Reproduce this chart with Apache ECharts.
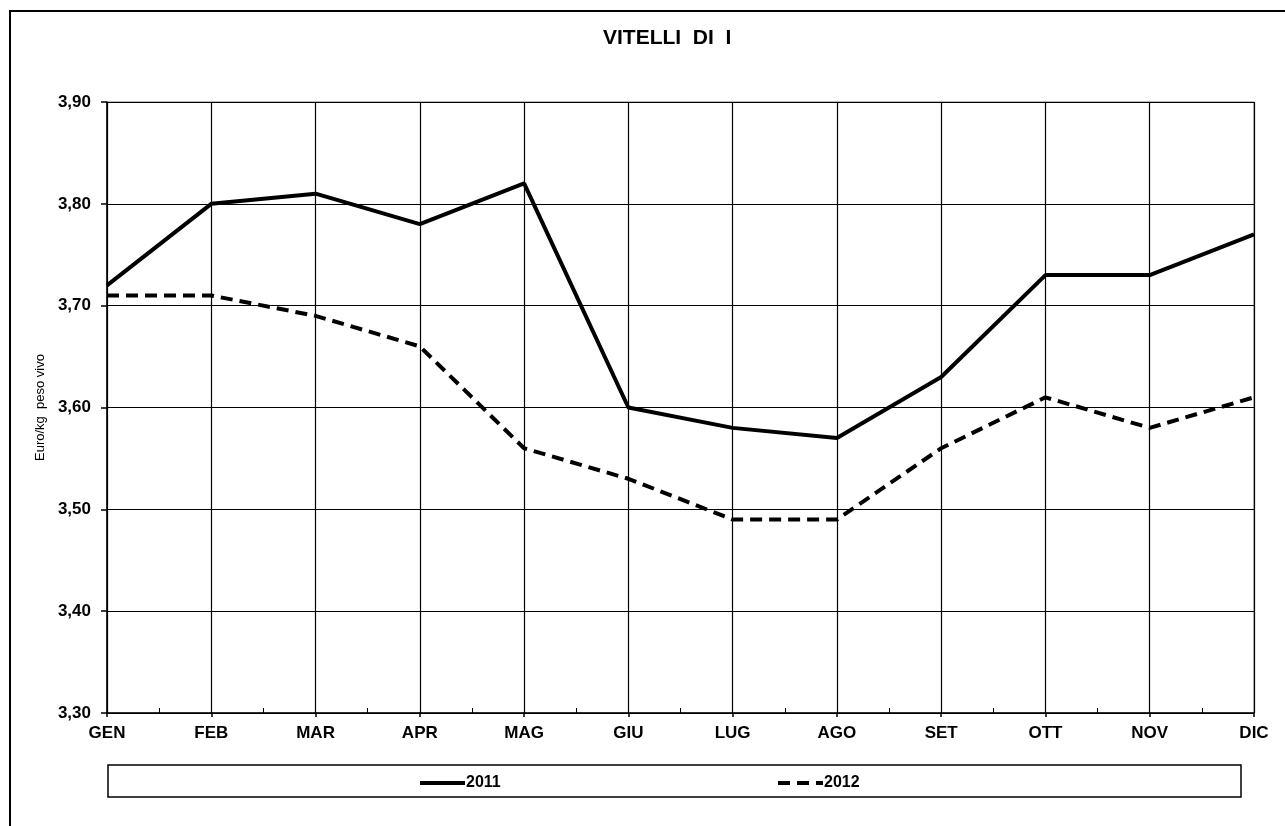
<!DOCTYPE html>
<html>
<head>
<meta charset="utf-8">
<style>
  html, body { margin: 0; padding: 0; background: #fff; }
  #chart { width: 1285px; height: 826px; }
</style>
<script src="https://cdn.jsdelivr.net/npm/echarts@6/dist/echarts.min.js"></script>
</head>
<body>
<div id="chart"></div>
<script>
// data
var months = ['GEN', 'FEB', 'MAR', 'APR', 'MAG', 'GIU', 'LUG', 'AGO', 'SET', 'OTT', 'NOV', 'DIC']
var price2011 = [3.72, 3.80, 3.81, 3.78, 3.82, 3.60, 3.58, 3.57, 3.63, 3.73, 3.73, 3.77]
var price2012 = [3.71, 3.71, 3.69, 3.66, 3.56, 3.53, 3.49, 3.49, 3.56, 3.61, 3.58, 3.61]
var yMin = 3.3
var yMax = 3.9
var yStep = 0.1

var font = 'Arial, "Liberation Sans", sans-serif'

var legendCommon = {
  top: 775,
  padding: 0,
  itemWidth: 45,
  itemHeight: 16,
  itemGap: 0,
  itemStyle: { opacity: 0 },
  lineStyle: { width: 4 },
  textStyle: { fontSize: 16, fontWeight: 'bold', color: '#000', padding: [0, 0, 0, -4] }
}

var chart = echarts.init(document.getElementById('chart'))

chart.setOption({
  animation: false,
  backgroundColor: '#fff',
  textStyle: { fontFamily: font },
  title: {
    text: 'VITELLI  DI  I',
    left: 598,
    top: 23,
    textStyle: { fontSize: 21, fontWeight: 'bold', color: '#000', fontFamily: font }
  },
  grid: {
    left: 107,
    right: 31,
    top: 102,
    bottom: 113,
    show: true,
    borderColor: '#777',
    borderWidth: 1
  },
  legend: [
    Object.assign({ data: ['2011'], left: 418 }, legendCommon),
    Object.assign({ data: ['2012'], left: 776 }, legendCommon)
  ],
  xAxis: [
    {
      type: 'category',
      data: months,
      boundaryGap: false,
      axisLine: { lineStyle: { color: '#000', width: 1.5 } },
      axisTick: { show: true, length: 4, lineStyle: { color: '#000', width: 1.5 } },
      axisLabel: { color: '#000', fontSize: 17, fontWeight: 'bold', margin: 12 },
      splitLine: { show: true, lineStyle: { color: '#000', width: 1.2 } }
    },
    {
      // half-month minor ticks pointing up into the plot
      type: 'value',
      position: 'bottom',
      min: 0,
      max: months.length - 1,
      interval: 0.5,
      axisLine: { show: false },
      axisTick: { show: true, inside: true, length: 5, lineStyle: { color: '#000', width: 1 } },
      axisLabel: { show: false },
      splitLine: { show: false }
    }
  ],
  yAxis: {
    type: 'value',
    min: yMin,
    max: yMax,
    interval: yStep,
    name: 'Euro/kg  peso vivo',
    nameLocation: 'middle',
    nameGap: 59,
    nameTextStyle: { fontSize: 13, color: '#000' },
    axisLine: { show: true, lineStyle: { color: '#000', width: 1.5 } },
    axisTick: { show: true, length: 6, lineStyle: { color: '#000', width: 1.5 } },
    axisLabel: {
      color: '#000',
      fontSize: 17,
      fontWeight: 'bold',
      margin: 16,
      formatter: function (v) {
        return v.toFixed(2).replace('.', ',')
      }
    },
    splitLine: { show: true, lineStyle: { color: '#000', width: 1.2 } }
  },
  graphic: [
    {
      type: 'rect',
      shape: { x: 10, y: 11, width: 1400, height: 900 },
      style: { fill: 'none', stroke: '#000', lineWidth: 2 },
      silent: true,
      z: -1
    },
    {
      type: 'rect',
      shape: { x: 108, y: 765, width: 1133, height: 32 },
      style: { fill: 'none', stroke: '#000', lineWidth: 1.5 },
      silent: true,
      z: -1
    }
  ],
  series: [
    {
      name: '2011',
      type: 'line',
      data: price2011,
      symbol: 'none',
      color: '#000',
      lineStyle: { color: '#000', width: 4 }
    },
    {
      name: '2012',
      type: 'line',
      data: price2012,
      symbol: 'none',
      color: '#000',
      lineStyle: { color: '#000', width: 4, type: [12, 7] }
    }
  ]
})
</script>
</body>
</html>
